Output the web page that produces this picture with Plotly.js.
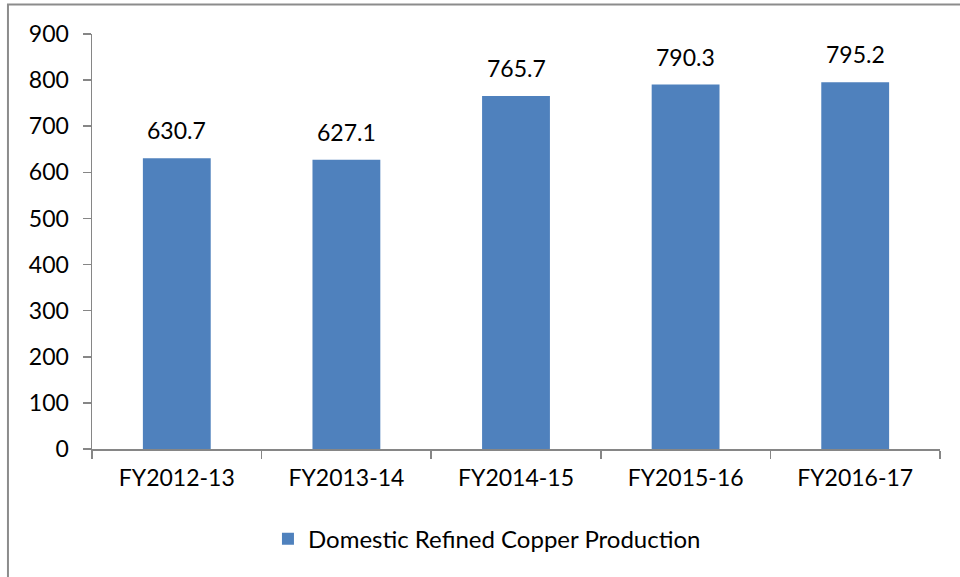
<!DOCTYPE html>
<html><head><meta charset="utf-8">
<script src="https://cdn.plot.ly/plotly-3.0.1.min.js"></script>
<style>html,body{margin:0;padding:0;background:#fff}#chart{width:960px;height:577px}</style>
</head><body><div id="chart"></div>
<script>
const categories = ["FY2012-13","FY2013-14","FY2014-15","FY2015-16","FY2016-17"];
const production = [630.7, 627.1, 765.7, 790.3, 795.2];
const seriesName = "Domestic Refined Copper Production";
const yTicks = [0,100,200,300,400,500,600,700,800,900];

const trace = {
  type: "bar",
  x: categories,
  y: production,
  name: seriesName,
  marker: {color: "#4F81BD"},
  width: 0.4,
  hoverinfo: "none"
};

const labels = categories.map((c, i) => ({
  x: c, y: production[i], xref: "x", yref: "y",
  text: production[i].toFixed(1), showarrow: false,
  yanchor: "bottom", yshift: 12,
  font: {family: "Lato, sans-serif", size: 23, color: "#000"}
}));

const layout = {
  width: 960, height: 577,
  margin: {l: 92, r: 20, t: 33.5, b: 127.5},
  paper_bgcolor: "#fff", plot_bgcolor: "#fff",
  font: {family: "Lato, sans-serif", size: 23, color: "#000"},
  showlegend: true,
  legend: {orientation: "h", x: 0.2075, xanchor: "left", y: -0.2175, yanchor: "middle",
           font: {size: 24}, itemwidth: 30},
  xaxis: {
    showline: true, linecolor: "#868686", linewidth: 1.5,
    ticks: "outside", ticklen: 8, tickcolor: "#868686", tickwidth: 1.5,
    tickson: "boundaries", showgrid: false, zeroline: false,
    tickfont: {size: 23}, ticklabelstandoff: 8
  },
  yaxis: {
    range: [0, 900], tickvals: yTicks, ticktext: yTicks.map(String),
    showline: true, linecolor: "#868686", linewidth: 1.5,
    ticks: "outside", ticklen: 8, tickcolor: "#868686", tickwidth: 1.5,
    showgrid: false, zeroline: false, tickfont: {size: 23}, ticklabelstandoff: 9
  },
  annotations: labels,
  shapes: [{
    type: "rect", xref: "paper", yref: "paper",
    x0: -0.0991, x1: 1.04, y0: -0.32, y1: 1.0709,
    line: {color: "#8c8c8c", width: 2}, fillcolor: "rgba(0,0,0,0)", layer: "below"
  }]
};

Plotly.newPlot("chart", [trace], layout, {displayModeBar: false, staticPlot: true});
</script></body></html>
